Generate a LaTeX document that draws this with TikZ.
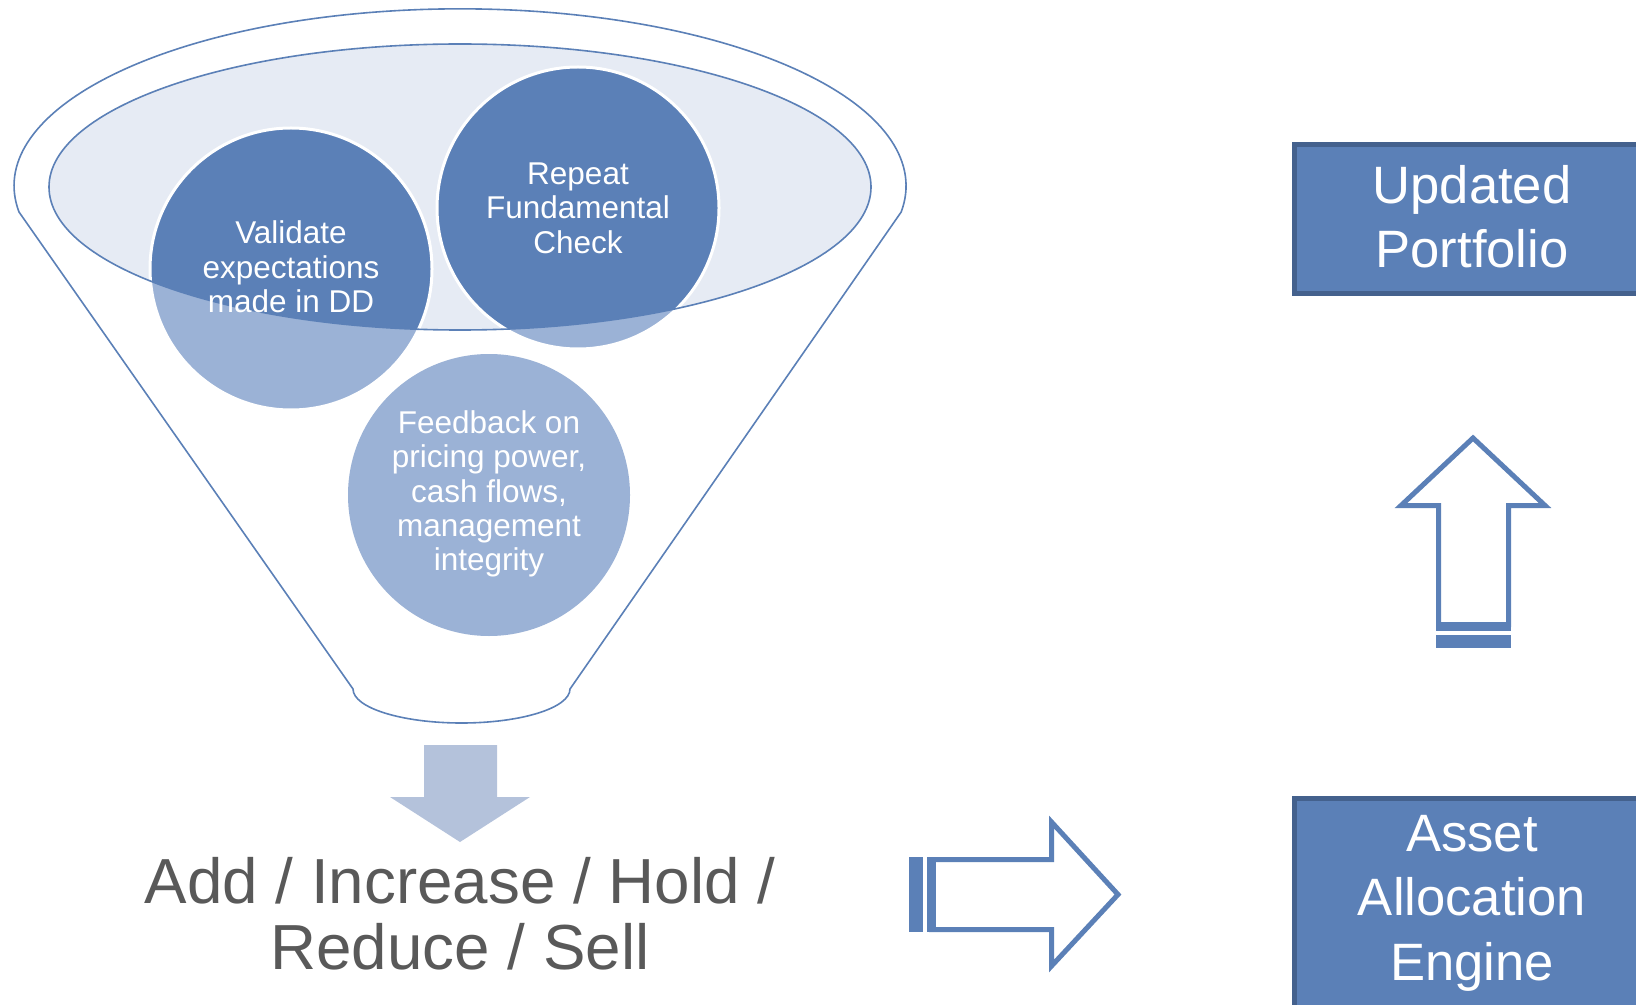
\documentclass[tikz,border=0pt]{standalone}
\usepackage{fontspec}
\setmainfont{Liberation Sans}
\definecolor{dkblue}{RGB}{91,128,183}
\definecolor{ltblue}{RGB}{155,178,214}
\definecolor{ellfill}{RGB}{230,235,244}
\definecolor{bordblue}{RGB}{68,97,141}
\definecolor{arrowfill}{RGB}{180,194,219}
\definecolor{txtgray}{RGB}{89,89,89}
\begin{document}
\begin{tikzpicture}[x=0.5pt,y=-0.5pt,
  ball/.style={circle, minimum size=141pt, inner sep=0pt, fill=ltblue},
  balltext/.style={text=white, align=center, inner sep=0pt, font=\fontsize{15.75}{17.2}\selectfont},
  funnelline/.style={draw=dkblue, line width=0.8pt},
  blockarrow/.style={draw=dkblue, fill=white, line width=2.5pt, line join=miter},
  stripe/.style={fill=dkblue},
  box/.style={draw=bordblue, fill=dkblue, line width=2.5pt, inner sep=0pt},
  boxtext/.style={text=white, align=center, inner sep=0pt, font=\fontsize{26.3}{32.2}\selectfont}]
\useasboundingbox (0,0) rectangle (1636,1005);
\clip (0,0) rectangle (1636,1005);
% funnel outline
\draw[funnelline, fill=white] (19,212) arc[start angle=171.5, end angle=368.5, x radius=446, y radius=177]
  -- (570,689) arc[start angle=0, end angle=180, x radius=108.5, y radius=34] -- cycle;
% inner ellipse
\fill[ellfill] (460,187) ellipse[x radius=411, y radius=143];
% circles
\node[ball] (val) at (291,269) {};
\node[ball] (rep) at (578,208) {};
\node[ball] (fb) at (489,495) {};
\begin{scope}
  \clip (460,187) ellipse[x radius=411, y radius=143];
  \fill[dkblue] (val.center) circle[radius=141];
  \fill[dkblue] (rep.center) circle[radius=141];
\end{scope}
\draw[white, line width=1.5pt] (val.center) circle[radius=141];
\draw[white, line width=1.5pt] (rep.center) circle[radius=141];
\draw[funnelline] (460,187) ellipse[x radius=411, y radius=143];
\node[balltext] (valt) at (291,267) {Validate\\expectations\\made in DD};
\node[balltext] (rept) at (578,208) {Repeat\\Fundamental\\Check};
\node[balltext] (fbt) at (489,494) {Feedback on\\pricing power,\\cash flows,\\management\\integrity};
% down arrow
\fill[arrowfill] (424,745) -- (497,745) -- (497,797) -- (530,797) -- (460,842) -- (390,797) -- (424,797) -- cycle;
% decision text
\node[text=txtgray, align=center, inner sep=0pt, font=\fontsize{31.85}{33.2}\selectfont] (dec) at (460,914) {Add / Increase / Hold /\\Reduce / Sell};
% right striped arrow
\draw[blockarrow] (931.5,859.5) -- (1051.5,859.5) -- (1051.5,822) -- (1118,894.5) -- (1051.5,966) -- (1051.5,929.5) -- (931.5,929.5) -- cycle;
\fill[stripe] (909,857) rectangle (923,932);
\fill[stripe] (927,857) rectangle (936,932);
% up striped arrow
\draw[blockarrow] (1438.5,624.5) -- (1438.5,505.5) -- (1401,505.5) -- (1473,438) -- (1545,505.5) -- (1508.5,505.5) -- (1508.5,624.5) -- cycle;
\fill[stripe] (1436,622) rectangle (1511,631);
\fill[stripe] (1436,635) rectangle (1511,648);
% boxes
\node[box, minimum width=177.75pt, minimum height=74.5pt] (upd) at (1472,219) {};
\node[boxtext] (updt) at (1472,217) {Updated\\Portfolio};
\node[box, minimum width=177.75pt, minimum height=120pt, anchor=north] (aae) at (1472,795.5) {};
\node[boxtext] (aaet) at (1472,903) {Asset\\Allocation\\Engine};
\end{tikzpicture}
\end{document}
